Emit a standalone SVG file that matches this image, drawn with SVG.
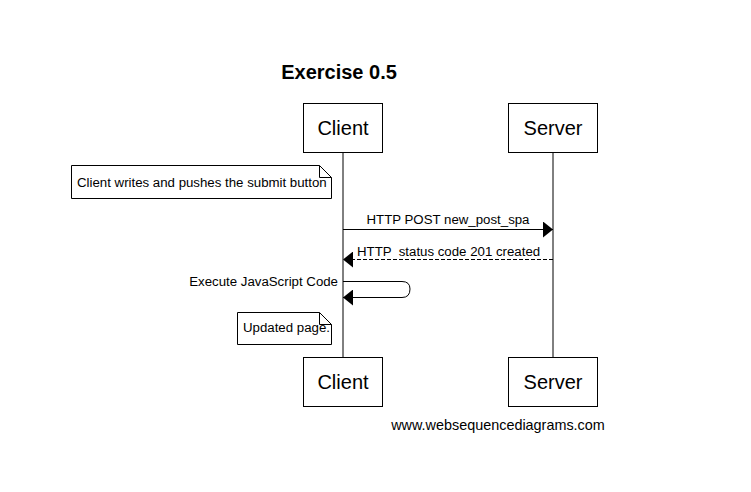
<svg xmlns="http://www.w3.org/2000/svg" width="751" height="492" viewBox="0 0 751 492">
<defs>
<style>
text{font-family:"Liberation Sans",Arial,sans-serif;fill:#000}
.box{fill:#fff;stroke:#000;stroke-width:1}
.life{stroke:#000;stroke-width:1}
.lbl{font-size:13.25px}
.actor{font-size:20px;text-anchor:middle}
.msg{fill:none;stroke:#000;stroke-width:1}
</style>
<marker id="ah" viewBox="0 0 10 16" refX="10" refY="8" markerWidth="10" markerHeight="16" markerUnits="userSpaceOnUse" orient="auto"><path d="M0,0 L10,8 L0,16 z" fill="#000"/></marker>
</defs>
<rect width="751" height="492" fill="#fff"/>
<text x="339" y="79" font-size="20" font-weight="bold" text-anchor="middle">Exercise 0.5</text>
<g id="lifelines">
<line class="life" x1="343" y1="152" x2="343" y2="357"/>
<line class="life" x1="553" y1="152" x2="553" y2="357"/>
</g>
<g id="client-top"><rect class="box" x="303.5" y="103.5" width="79" height="49"/><text class="actor" x="343" y="135">Client</text></g>
<g id="server-top"><rect class="box" x="508.5" y="103.5" width="89" height="49"/><text class="actor" x="553" y="135">Server</text></g>
<g id="client-bottom"><rect class="box" x="303.5" y="357.5" width="79" height="49"/><text class="actor" x="343" y="389">Client</text></g>
<g id="server-bottom"><rect class="box" x="508.5" y="357.5" width="89" height="49"/><text class="actor" x="553" y="389">Server</text></g>
<g id="note1"><path class="box" d="M71.5,165.5 H319.5 L331.5,177.5 V198.5 H71.5 Z M319.5,165.5 V177.5 H331.5"/><text class="lbl" x="77" y="187">Client writes and pushes the submit button</text></g>
<g id="note2"><path class="box" d="M237.5,312.5 H319.5 L331.5,324.5 V344.5 H237.5 Z M319.5,312.5 V324.5 H331.5"/><text class="lbl" x="243" y="332">Updated page.</text></g>
<g id="connectors">
<line class="msg" x1="343" y1="229.5" x2="553" y2="229.5" marker-end="url(#ah)"/>
<text class="lbl" x="448" y="224" text-anchor="middle">HTTP POST new_post_spa</text>
<line class="msg" x1="553" y1="259.5" x2="343" y2="259.5" stroke-dasharray="4,2" marker-end="url(#ah)"/>
<text class="lbl" x="357" y="256" xml:space="preserve">HTTP  status code 201 created</text>
<path class="msg" d="M343,281.5 H402 Q410,281.5 410,289 Q410,297.5 402,297.5 H343" marker-end="url(#ah)"/>
<text class="lbl" x="338" y="286" text-anchor="end">Execute JavaScript Code</text>
</g>
<text x="498" y="430" font-size="14.4" text-anchor="middle">www.websequencediagrams.com</text>
</svg>
